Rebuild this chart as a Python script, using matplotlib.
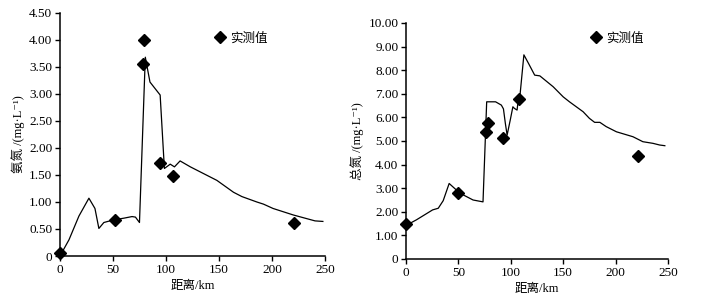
import matplotlib
matplotlib.use('Agg')
import matplotlib.pyplot as plt
import matplotlib.ticker as ticker

plt.rcParams['font.family'] = ['Liberation Serif', 'Noto Sans CJK SC', 'DejaVu Serif']

# 氨氮 simulated line and measured points
nh_x = [0, 8.5, 17.9, 27.3, 33, 36.7, 41.4, 50.8, 60.2, 68, 71.2, 75, 80.5, 84.9, 94.5,
        98.5, 104, 108, 113.3, 123, 132, 148, 163.7, 171.6, 185.7, 192, 201, 220, 240.6, 248]
nh_y = [0, 0.3, 0.74, 1.07, 0.88, 0.51, 0.62, 0.67, 0.70, 0.73, 0.72, 0.62, 3.68, 3.22, 2.98,
        1.62, 1.70, 1.65, 1.76, 1.65, 1.56, 1.40, 1.18, 1.10, 1.0, 0.96, 0.88, 0.76, 0.65, 0.64]
nh_obs_x = [0, 52, 78, 79, 94.5, 107, 221]
nh_obs_y = [0.05, 0.67, 3.55, 4.0, 1.73, 1.48, 0.62]

# 总氮 simulated line and measured points
tn_x = [0, 10, 25.4, 30.8, 35.5, 41.2, 51.4, 64, 73.5, 77, 85.5, 91, 93, 94.8, 96.5,
        99.5, 102, 103.5, 106, 107.3, 108.8, 112.5, 117, 122.8, 127.7, 140.4, 150, 156,
        169, 175, 180, 185, 191, 200.8, 216.6, 226, 235.7, 242, 247]
tn_y = [1.42, 1.66, 2.08, 2.15, 2.47, 3.20, 2.79, 2.5, 2.42, 6.66, 6.66, 6.52, 6.36, 5.75, 5.25,
        5.89, 6.45, 6.38, 6.31, 6.82, 6.94, 8.65, 8.28, 7.79, 7.76, 7.3, 6.87, 6.66,
        6.24, 5.96, 5.79, 5.79, 5.61, 5.39, 5.18, 4.97, 4.90, 4.83, 4.80]
tn_obs_x = [0, 50, 76.5, 78, 93, 107.5, 221]
tn_obs_y = [1.48, 2.8, 5.38, 5.75, 5.13, 6.77, 4.35]

nh_ticks = [0, 0.5, 1, 1.5, 2, 2.5, 3, 3.5, 4, 4.5]
tn_ticks = list(range(0, 11))
x_ticks = [0, 50, 100, 150, 200, 250]


def fmt(v, pos):
    return '0' if v == 0 else '%.2f' % v


fig = plt.figure(figsize=(7.03, 3.02), dpi=100)
ax1 = fig.add_axes([0.0853, 0.1523, 0.377, 0.805])
ax2 = fig.add_axes([0.5775, 0.1424, 0.3727, 0.7815])

panels = [
    (ax1, nh_x, nh_y, nh_obs_x, nh_obs_y, nh_ticks, 4.5, '氨氮 /(mg·L⁻¹)', (0.585, 0.92)),
    (ax2, tn_x, tn_y, tn_obs_x, tn_obs_y, tn_ticks, 10, '总氮 /(mg·L⁻¹)', (0.708, 0.96)),
]

for ax, lx, ly, ox, oy, yt, ytop, ylab, lpos in panels:
    ax.plot(lx, ly, color='black', linewidth=0.9, clip_on=False)
    ax.plot(ox, oy, linestyle='none', marker='D', markersize=6.5, color='black',
            label='实测值', clip_on=False, zorder=5)
    ax.set_xlim(0, 250)
    ax.set_ylim(0, ytop)
    ax.set_xticks(x_ticks)
    ax.set_yticks(yt)
    ax.yaxis.set_major_formatter(ticker.FuncFormatter(fmt))
    ax.spines['top'].set_visible(False)
    ax.spines['right'].set_visible(False)
    ax.spines['left'].set_linewidth(1.1)
    ax.spines['bottom'].set_linewidth(1.1)
    ax.tick_params(direction='out', length=3.5, width=1, labelsize=9.5, pad=2)
    ax.set_xlabel('距离/km', fontsize=9, labelpad=3)
    ax.set_ylabel(ylab, fontsize=9, labelpad=3)
    ax.legend(loc='upper left', bbox_to_anchor=lpos, frameon=False, fontsize=9,
              handlelength=0.8, handletextpad=0.4, borderaxespad=0, borderpad=0)

fig.savefig('out.png', dpi=100)
